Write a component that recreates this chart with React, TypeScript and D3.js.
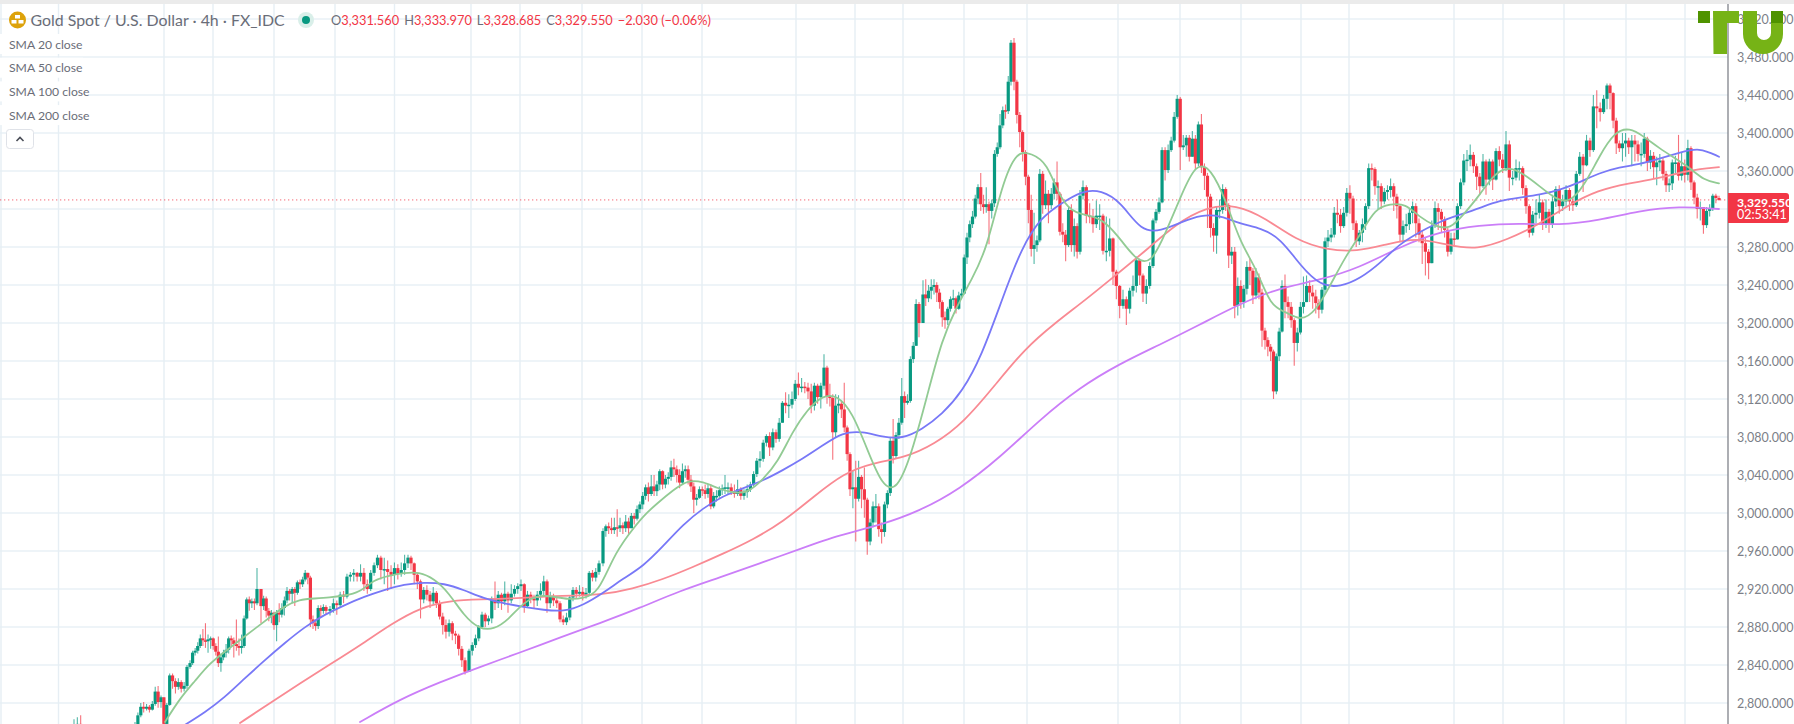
import React, { useEffect, useRef } from "react";
import * as d3 from "d3";

// one bar = [close, high, low], open is the previous close
type Bar = [number, number, number];

const barsStub: Bar[] = [[2775, 2783, 2770], [2778, 2785, 2772], [2776, 2787, 2770], [2772, 2778, 2765]];
const barsA1: Bar[] = [
  [2775, 2780, 2770], [2787, 2790, 2772], [2796, 2800, 2785], [2794, 2801, 2790], [2796, 2799, 2792], [2793, 2798, 2790],
  [2799, 2802, 2792], [2812, 2817, 2797], [2801, 2818, 2795], [2806, 2808, 2795], [2778, 2806, 2770], [2798, 2800, 2776],
  [2829, 2831, 2797], [2823, 2831, 2815], [2817, 2826, 2810], [2822, 2826, 2814], [2815, 2824, 2811], [2818, 2822, 2812], [2838, 2840, 2815],
];
const barsA2: Bar[] = [
  [2842, 2845, 2836], [2853, 2855, 2840], [2855, 2858, 2850], [2860, 2864, 2852], [2868, 2872, 2858], [2866, 2878, 2860],
  [2865, 2884, 2858], [2867, 2872, 2853], [2868, 2870, 2857], [2860, 2869, 2856], [2854, 2863, 2850], [2842, 2870, 2838],
  [2848, 2852, 2833], [2853, 2856, 2845], [2856, 2862, 2848], [2868, 2870, 2852], [2866, 2871, 2860], [2862, 2869, 2848],
  [2860, 2888, 2855], [2858, 2868, 2850], [2860, 2872, 2852], [2889, 2892, 2858], [2909, 2911, 2888], [2905, 2912, 2897],
  [2907, 2910, 2900], [2905, 2910, 2898], [2920, 2942, 2903],
];
const barsA3: Bar[] = [
  [2902, 2920, 2884], [2910, 2913, 2898], [2897, 2912, 2890], [2892, 2900, 2886], [2895, 2898, 2884], [2882, 2896, 2877],
  [2895, 2898, 2865], [2893, 2905, 2885], [2900, 2905, 2890], [2908, 2912, 2892], [2918, 2922, 2905], [2915, 2920, 2908],
  [2920, 2922, 2905], [2916, 2922, 2902], [2927, 2929, 2914], [2925, 2930, 2920], [2930, 2933, 2922], [2937, 2940, 2928],
  [2932, 2937, 2925], [2888, 2934, 2880], [2884, 2892, 2878], [2881, 2888, 2876], [2900, 2903, 2878], [2897, 2903, 2890],
  [2901, 2904, 2894], [2897, 2903, 2893],
];
const barsB1: Bar[] = [
  [2899, 2902, 2892], [2905, 2910, 2895], [2903, 2908, 2893], [2914, 2917, 2900], [2912, 2918, 2905], [2933, 2936, 2910],
  [2935, 2938, 2928], [2937, 2941, 2928], [2933, 2938, 2928], [2937, 2946, 2928], [2925, 2942, 2918], [2920, 2930, 2915],
  [2937, 2940, 2918], [2945, 2948, 2934], [2953, 2956, 2942], [2940, 2955, 2930], [2941, 2953, 2925], [2938, 2950, 2918],
  [2935, 2945, 2920], [2942, 2948, 2925], [2936, 2946, 2930], [2940, 2948, 2933], [2947, 2956, 2935], [2953, 2956, 2942],
];
const barsB2: Bar[] = [
  [2947, 2955, 2940], [2935, 2948, 2925], [2928, 2937, 2920], [2909, 2930, 2889], [2919, 2922, 2905], [2914, 2924, 2908],
  [2907, 2918, 2900], [2916, 2922, 2904], [2905, 2918, 2900], [2891, 2908, 2888], [2882, 2895, 2872], [2875, 2888, 2868],
  [2884, 2888, 2870], [2873, 2886, 2866], [2871, 2876, 2862], [2857, 2873, 2850], [2845, 2860, 2838], [2833, 2848, 2830],
];
const barsB3: Bar[] = [
  [2855, 2857, 2833], [2861, 2864, 2850], [2868, 2872, 2858], [2880, 2882, 2865], [2893, 2896, 2878], [2886, 2895, 2880],
  [2889, 2892, 2882], [2910, 2912, 2884], [2905, 2928, 2898], [2914, 2918, 2900], [2907, 2916, 2898], [2915, 2928, 2903],
  [2908, 2917, 2895], [2915, 2925, 2905], [2920, 2924, 2912], [2923, 2926, 2915], [2925, 2930, 2918], [2902, 2926, 2895],
  [2914, 2918, 2900], [2910, 2917, 2905], [2908, 2914, 2900], [2914, 2918, 2902], [2918, 2926, 2908], [2928, 2934, 2912],
  [2905, 2930, 2895], [2912, 2917, 2900], [2908, 2915, 2902], [2905, 2912, 2900], [2888, 2907, 2885], [2885, 2892, 2882],
  [2890, 2895, 2882], [2911, 2913, 2887], [2919, 2922, 2907], [2915, 2922, 2910], [2917, 2924, 2912], [2913, 2922, 2908],
  [2916, 2921, 2910], [2937, 2939, 2914], [2932, 2940, 2928], [2938, 2942, 2928], [2947, 2950, 2935],
];
const barsC1: Bar[] = [
  [2981, 2984, 2944], [2986, 2988, 2975], [2984, 2990, 2978], [2982, 2995, 2978], [2985, 2995, 2978], [2984, 3004, 2975],
  [2987, 2995, 2980], [2984, 2990, 2978], [2991, 2998, 2980], [2984, 2995, 2978], [2997, 3000, 2984], [2994, 3000, 2988],
  [3004, 3008, 2992], [3009, 3012, 3000], [3018, 3022, 3004], [3027, 3030, 3014], [3020, 3032, 3012], [3028, 3040, 3018],
  [3023, 3040, 3018], [3030, 3034, 3018], [3044, 3046, 3024], [3030, 3045, 3025], [3036, 3040, 3026], [3038, 3043, 3030],
  [3048, 3055, 3034], [3046, 3057, 3038], [3040, 3050, 3032], [3032, 3046, 3026], [3044, 3052, 3030], [3046, 3050, 3037],
  [3035, 3050, 3030], [3028, 3040, 3022], [3014, 3032, 3000], [3016, 3020, 3008], [3025, 3028, 3015], [3024, 3028, 3018],
  [3020, 3030, 3015], [3026, 3030, 3016], [3007, 3030, 3004], [3018, 3022, 3005], [3018, 3024, 3012], [3024, 3028, 3016],
  [3026, 3030, 3019], [3027, 3040, 3020],
];
const barsC2: Bar[] = [
  [3027, 3032, 3020], [3023, 3031, 3019], [3020, 3030, 3016], [3025, 3035, 3018], [3018, 3027, 3014], [3022, 3025, 3014],
  [3025, 3030, 3016], [3030, 3033, 3022], [3041, 3044, 3028], [3055, 3058, 3038], [3057, 3065, 3048], [3074, 3077, 3054],
  [3081, 3083, 3070], [3069, 3085, 3060], [3085, 3089, 3066], [3078, 3088, 3074], [3095, 3100, 3075], [3116, 3118, 3095],
  [3113, 3127, 3105], [3114, 3125, 3100], [3120, 3128, 3110], [3136, 3140, 3118], [3132, 3148, 3124], [3133, 3142, 3127],
  [3132, 3138, 3126], [3128, 3137, 3120], [3113, 3136, 3105], [3134, 3137, 3108], [3122, 3136, 3115], [3134, 3137, 3110], [3153, 3167, 3130],
];
const barsC3: Bar[] = [
  [3123, 3155, 3115], [3121, 3136, 3112], [3085, 3125, 3056], [3113, 3125, 3080], [3115, 3124, 3105], [3109, 3118, 3100],
  [3090, 3137, 3085], [3062, 3092, 3055], [3025, 3064, 3018], [3027, 3045, 3005], [3015, 3055, 2970], [3038, 3055, 3012],
  [3025, 3040, 3005], [3014, 3048, 2995], [2970, 3016, 2956], [2990, 2994, 2966], [3007, 3012, 2985], [3007, 3020, 2990],
  [2983, 3010, 2975], [2980, 2990, 2968], [3009, 3012, 2975], [3021, 3024, 3005], [3076, 3080, 3018], [3060, 3099, 3052],
  [3082, 3085, 3058], [3095, 3100, 3078], [3123, 3142, 3093], [3116, 3128, 3100], [3118, 3125, 3114], [3162, 3165, 3116],
  [3176, 3180, 3158], [3220, 3225, 3176], [3200, 3222, 3185],
];
const barsD1: Bar[] = [
  [3230, 3245, 3200], [3226, 3246, 3218], [3234, 3240, 3222], [3238, 3246, 3225], [3240, 3246, 3230], [3232, 3243, 3222],
  [3222, 3236, 3215], [3206, 3224, 3196], [3203, 3212, 3194], [3215, 3217, 3198], [3225, 3228, 3212], [3226, 3235, 3218],
  [3215, 3228, 3210], [3229, 3233, 3214], [3231, 3236, 3225], [3269, 3272, 3230], [3290, 3295, 3262], [3304, 3308, 3285],
  [3312, 3318, 3300], [3331, 3335, 3310], [3343, 3346, 3325], [3325, 3358, 3318], [3322, 3335, 3315], [3325, 3343, 3316],
  [3318, 3328, 3283], [3326, 3330, 3310], [3378, 3382, 3322], [3385, 3390, 3375], [3408, 3420, 3383], [3424, 3428, 3405],
  [3423, 3430, 3415], [3454, 3460, 3420], [3495, 3498, 3450],
];
const barsD2: Bar[] = [
  [3454, 3500, 3445], [3419, 3456, 3410], [3401, 3422, 3385], [3380, 3403, 3370], [3354, 3382, 3345], [3319, 3356, 3305],
  [3278, 3335, 3270], [3282, 3316, 3262], [3287, 3292, 3275], [3357, 3362, 3285], [3324, 3360, 3315], [3336, 3350, 3320],
  [3324, 3340, 3305], [3336, 3342, 3320], [3348, 3352, 3330], [3336, 3370, 3330], [3296, 3338, 3292], [3293, 3305, 3285],
  [3282, 3298, 3265], [3319, 3322, 3280], [3282, 3325, 3275], [3302, 3310, 3270], [3275, 3305, 3268], [3334, 3340, 3272],
];
const barsD3: Bar[] = [
  [3343, 3350, 3330], [3313, 3345, 3305], [3312, 3326, 3305], [3304, 3320, 3295], [3313, 3329, 3300], [3313, 3325, 3298],
  [3276, 3315, 3272], [3276, 3312, 3265], [3289, 3310, 3270], [3254, 3290, 3240], [3239, 3256, 3225], [3218, 3240, 3205],
  [3225, 3235, 3215], [3215, 3228, 3198], [3234, 3237, 3210], [3239, 3250, 3228], [3266, 3270, 3232], [3250, 3268, 3240],
  [3231, 3252, 3222], [3239, 3246, 3220], [3260, 3264, 3236], [3308, 3310, 3258],
];
const barsD4: Bar[] = [
  [3317, 3320, 3305], [3327, 3332, 3315], [3382, 3385, 3326], [3361, 3385, 3350], [3382, 3388, 3358], [3392, 3396, 3380],
  [3417, 3422, 3390], [3436, 3440, 3415], [3385, 3438, 3361], [3387, 3398, 3382], [3395, 3398, 3375], [3375, 3398, 3370],
  [3394, 3402, 3385], [3368, 3398, 3362], [3409, 3412, 3365], [3364, 3420, 3358], [3355, 3368, 3340], [3333, 3358, 3300],
  [3300, 3336, 3290], [3292, 3305, 3275], [3319, 3322, 3273], [3319, 3330, 3310], [3341, 3346, 3315], [3324, 3343, 3318],
  [3271, 3326, 3258], [3275, 3280, 3262], [3218, 3280, 3205], [3239, 3248, 3208], [3222, 3245, 3215], [3236, 3240, 3216],
  [3259, 3265, 3230], [3255, 3268, 3240], [3229, 3258, 3220], [3248, 3258, 3225], [3232, 3252, 3225], [3192, 3236, 3175],
];
const barsE1: Bar[] = [
  [3182, 3195, 3172], [3175, 3185, 3165], [3170, 3178, 3160], [3128, 3172, 3120], [3165, 3168, 3125], [3191, 3195, 3160], [3239, 3245, 3190],
];
const barsE2: Bar[] = [
  [3222, 3251, 3205], [3217, 3228, 3205], [3203, 3222, 3195], [3179, 3205, 3155], [3190, 3195, 3170], [3217, 3222, 3188],
  [3222, 3249, 3210], [3239, 3250, 3225], [3232, 3245, 3222], [3228, 3240, 3215], [3221, 3235, 3210], [3214, 3225, 3205],
  [3235, 3238, 3210], [3286, 3290, 3230],
];
const barsE3: Bar[] = [
  [3290, 3298, 3280], [3293, 3300, 3285], [3316, 3322, 3290], [3314, 3330, 3305], [3302, 3320, 3295], [3316, 3322, 3300],
  [3337, 3342, 3312], [3331, 3345, 3315], [3305, 3334, 3298], [3286, 3308, 3280], [3295, 3298, 3282], [3304, 3310, 3285],
  [3323, 3326, 3298], [3363, 3368, 3320], [3362, 3368, 3350], [3344, 3364, 3335], [3344, 3350, 3320], [3328, 3347, 3320],
  [3338, 3342, 3325], [3340, 3345, 3330], [3344, 3352, 3332], [3333, 3347, 3318], [3323, 3336, 3310], [3293, 3325, 3285],
];
const barsE4: Bar[] = [
  [3302, 3308, 3285], [3304, 3315, 3295], [3316, 3320, 3298], [3323, 3328, 3305], [3305, 3326, 3290], [3293, 3310, 3285],
  [3284, 3298, 3262], [3275, 3290, 3250], [3263, 3278, 3246], [3302, 3308, 3265], [3321, 3328, 3300], [3317, 3326, 3298],
  [3309, 3320, 3295], [3298, 3312, 3290], [3275, 3300, 3270], [3289, 3295, 3272], [3288, 3295, 3280], [3323, 3326, 3288],
  [3348, 3352, 3320], [3371, 3378, 3345], [3372, 3382, 3360], [3377, 3388, 3365], [3365, 3380, 3358], [3354, 3368, 3340],
  [3344, 3358, 3335], [3370, 3378, 3342],
];
const barsE5: Bar[] = [
  [3351, 3372, 3335], [3370, 3373, 3345], [3351, 3372, 3340], [3381, 3384, 3350], [3372, 3386, 3365], [3363, 3378, 3358],
  [3388, 3402, 3360], [3353, 3392, 3339], [3353, 3360, 3345], [3363, 3372, 3350], [3363, 3370, 3350], [3342, 3365, 3335],
  [3323, 3345, 3315], [3295, 3325, 3290], [3314, 3318, 3292], [3316, 3330, 3305], [3327, 3335, 3310], [3304, 3330, 3298], [3317, 3330, 3300],
];
const barsF1: Bar[] = [
  [3304, 3320, 3295], [3328, 3335, 3300], [3341, 3344, 3322], [3323, 3345, 3315], [3328, 3335, 3318], [3340, 3345, 3322],
  [3328, 3342, 3318], [3324, 3332, 3318], [3357, 3360, 3322], [3375, 3380, 3355], [3366, 3378, 3338], [3392, 3398, 3365],
  [3382, 3395, 3375], [3428, 3440, 3380], [3426, 3445, 3405], [3422, 3432, 3412], [3436, 3440, 3420], [3450, 3452, 3425],
];
const barsF2: Bar[] = [
  [3442, 3452, 3425], [3413, 3443, 3405], [3389, 3416, 3378], [3384, 3392, 3380], [3389, 3400, 3370], [3392, 3400, 3375],
  [3385, 3395, 3378], [3392, 3398, 3365], [3388, 3398, 3370], [3378, 3392, 3370], [3378, 3390, 3365], [3394, 3400, 3374],
  [3369, 3396, 3360], [3376, 3382, 3362], [3364, 3380, 3352], [3369, 3375, 3345], [3371, 3378, 3360], [3357, 3374, 3350],
  [3345, 3360, 3338], [3347, 3352, 3338], [3369, 3372, 3340], [3369, 3376, 3358], [3355, 3398, 3350], [3365, 3380, 3350],
  [3356, 3372, 3348], [3384, 3393, 3350], [3348, 3386, 3340], [3332, 3350, 3325], [3320, 3336, 3310], [3322, 3328, 3308],
  [3303, 3322, 3294], [3318, 3322, 3300], [3320, 3325, 3312], [3334, 3336, 3318], [3331.56, 3336, 3326], [3329.55, 3333.97, 3328.685],
];

const legs = [barsStub, barsA1, barsA2, barsA3, barsB1, barsB2, barsB3, barsC1, barsC2, barsC3, barsD1, barsD2, barsD3, barsD4, barsE1, barsE2, barsE3, barsE4, barsE5, barsF1, barsF2];

// samples along the time axis, evenly spaced
const sma20 = [
  2780, 2805, 2823, 2842, 2854, 2866, 2878, 2890, 2902, 2909, 2910, 2911, 2913, 2916, 2930, 2934, 2937, 2938, 2931, 2916, 2892, 2878, 2877, 2888,
  2906, 2914, 2912, 2909, 2910, 2916, 2954, 2977, 2997, 3011, 3024, 3035, 3033, 3026, 3021, 3021, 3035, 3053, 3086, 3109, 3124, 3124, 3106, 3067,
  3028, 3023, 3064, 3123, 3183, 3218, 3246, 3278, 3345, 3382, 3378, 3370, 3327, 3315, 3313, 3306, 3287, 3266, 3262, 3296, 3334, 3369, 3363, 3329,
  3283, 3259, 3217, 3212, 3202, 3212, 3240, 3270, 3293, 3321, 3325, 3326, 3311, 3302, 3298, 3316, 3335, 3358, 3365, 3356, 3344, 3331, 3326, 3345,
  3376, 3401, 3406, 3396, 3384, 3374, 3364, 3350, 3347,
];
const sma50 = [
  2777, 2790, 2806, 2826, 2845, 2863, 2880, 2893, 2903, 2912, 2919, 2925, 2927, 2926, 2919, 2910, 2905, 2901, 2898, 2896, 2903, 2916, 2931, 2944,
  2965, 2988, 3005, 3018, 3026, 3034, 3045, 3057, 3071, 3085, 3086, 3080, 3078, 3088, 3104, 3127, 3166, 3224, 3280, 3312, 3326, 3339, 3340, 3327,
  3296, 3297, 3306, 3314, 3313, 3304, 3300, 3289, 3260, 3239, 3238, 3247, 3263, 3284, 3296, 3307, 3314, 3321, 3329, 3332, 3335, 3340, 3348, 3358,
  3364, 3367, 3373, 3379, 3385, 3375,
];
const sma100 = [
  2779, 2800, 2821, 2841, 2861, 2883, 2901, 2908, 2909, 2910, 2912, 2913, 2914, 2920, 2930, 2943, 2957, 2972, 2991, 3017, 3042, 3053, 3058, 3072,
  3096, 3134, 3173, 3200, 3224, 3250, 3276, 3304, 3322, 3325, 3310, 3287, 3277, 3275, 3283, 3290, 3282, 3277, 3288, 3303, 3324, 3340, 3347, 3352,
  3361, 3364,
];
const sma200 = [
  2780, 2804, 2822, 2838, 2853, 2869, 2884, 2900, 2918, 2932, 2947, 2962, 2977, 2987, 3002, 3025, 3058, 3098, 3132, 3157, 3177, 3198, 3220, 3237,
  3245, 3258, 3280, 3296, 3303, 3305, 3303, 3308, 3318, 3323, 3320,
];

const priceTicks = d3.range(2800, 3521, 40);
const hiddenTick = 3320; // sits behind the last price label
const legendRows = ["SMA 20 close", "SMA 50 close", "SMA 100 close", "SMA 200 close"];
const ohlcParts = [
  ["O", "3,331.560"],
  ["H", "3,333.970"],
  ["L", "3,328.685"],
  ["C", "3,329.550"],
];
const lastPrice = 3329.55;

// layout
const W = 1794;
const H = 724;
const axisX = 1728;
// first and last pixel of each run of bars, the bar scale is built on these
const legSpans = [[74, 84], [135, 187], [190, 257], [261, 326], [330, 408], [411, 465], [469, 599], [603, 725], [728, 824], [827, 919], [923, 1011], [1014, 1080], [1083, 1153], [1156, 1262], [1265, 1282], [1285, 1325], [1328, 1400], [1403, 1483], [1486, 1546], [1549, 1607], [1610, 1719]];
const timeGridX = [1, 58.5, 164, 213, 274, 335, 394.5, 471, 520, 582, 642, 702, 796, 855, 903, 964, 1027, 1118, 1180, 1241, 1301, 1349, 1454, 1503, 1564, 1626, 1685];

const UP = "#089981";
const DOWN = "#f23645";
const FONT = "Lato, 'Open Sans', sans-serif";

const App: React.FC = () => {
  const svgRef = useRef<SVGSVGElement | null>(null);

  useEffect(() => {
    if (!svgRef.current) return;
    const svg = d3.select(svgRef.current);
    svg.selectAll("*").remove();

    const y = d3.scaleLinear().domain([2800, 3480]).range([703, 57]);

    // piecewise bar scale
    const domain: number[] = [];
    const range: number[] = [];
    let count = 0;
    legs.forEach((leg, i) => {
      domain.push(count, count + leg.length - 1);
      range.push(legSpans[i][0], legSpans[i][1]);
      count += leg.length;
    });
    const x = d3.scaleLinear().domain(domain).range(range);

    const bars = legs.flat().map((b, i, all) => {
      const open = i === 0 ? b[0] : all[i - 1][0];
      return { i, open, close: b[0], high: Math.max(b[1], open, b[0]), low: Math.min(b[2], open, b[0]) };
    });

    svg.append("rect").attr("width", W).attr("height", H).attr("fill", "#fff");

    // grid
    svg.append("g").selectAll("line").data(priceTicks).join("line")
      .attr("x1", 0).attr("x2", axisX)
      .attr("y1", (d) => y(d)).attr("y2", (d) => y(d))
      .attr("stroke", "#e9f0f6").attr("stroke-width", 1.4);
    svg.append("g").selectAll("line").data(timeGridX).join("line")
      .attr("x1", (d) => d).attr("x2", (d) => d)
      .attr("y1", 4).attr("y2", H)
      .attr("stroke", "#e6eef4").attr("stroke-width", 1.4);

    svg.append("defs").append("clipPath").attr("id", "pane")
      .append("rect").attr("x", 0).attr("y", 4).attr("width", axisX).attr("height", H - 4);
    const pane = svg.append("g").attr("clip-path", "url(#pane)");

    // last price line
    pane.append("line")
      .attr("x1", 0).attr("x2", axisX)
      .attr("y1", y(lastPrice)).attr("y2", y(lastPrice))
      .attr("stroke", DOWN).attr("stroke-opacity", 0.75).attr("stroke-dasharray", "1.3 2.7");

    const colour = (d: { open: number; close: number }) => (d.close >= d.open ? UP : DOWN);

    pane.append("g").selectAll("line").data(bars).join("line")
      .attr("x1", (d) => x(d.i)).attr("x2", (d) => x(d.i))
      .attr("y1", (d) => y(d.high)).attr("y2", (d) => y(d.low))
      .attr("stroke", colour).attr("stroke-opacity", 0.7).attr("stroke-width", 1.1);
    pane.append("g").selectAll("rect").data(bars).join("rect")
      .attr("x", (d) => x(d.i) - 1.6).attr("width", 3.2)
      .attr("y", (d) => y(Math.max(d.open, d.close)))
      .attr("height", (d) => Math.max(1.5, Math.abs(y(d.open) - y(d.close))))
      .attr("fill", colour);

    // moving averages
    const drawSma = (values: number[], x0: number, stroke: string, curve: d3.CurveFactory) => {
      const t = d3.scaleLinear().domain([0, values.length - 1]).range([x0, 1719]);
      const line = d3.line<number>().x((_, i) => t(i)).y((d) => y(d)).curve(curve);
      pane.append("path").attr("d", line(values)).attr("fill", "none")
        .attr("stroke", stroke).attr("stroke-width", 1.8).attr("stroke-linecap", "round");
    };
    drawSma(sma200, 360, "#cb7ef8", d3.curveBasis);
    drawSma(sma100, 240, "#f98a93", d3.curveBasis);
    drawSma(sma50, 185, "#7878f7", d3.curveBasis);
    drawSma(sma20, 165, "#92cb94", d3.curveBasis);

    // price axis
    const axis = svg.append("g").attr("transform", `translate(${axisX},0)`)
      .call(
        d3.axisRight(y)
          .tickValues(priceTicks.filter((d) => d !== hiddenTick))
          .tickFormat(d3.format(",.3f"))
          .tickSize(0)
          .tickPadding(9)
      );
    axis.select(".domain").remove();
    axis.selectAll("text").attr("font-family", FONT).attr("font-size", 12.5).attr("fill", "#7c7f88");
    svg.append("line").attr("x1", axisX).attr("x2", axisX).attr("y1", 4).attr("y2", H)
      .attr("stroke", "#80838a").attr("stroke-width", 1.3);

    // last price label
    svg.append("path")
      .attr("d", `M${axisX} 193H1786a3 3 0 0 1 3 3V220a3 3 0 0 1 -3 3H${axisX}Z`)
      .attr("fill", DOWN);
    svg.append("text").attr("x", 1737).attr("y", 206.5).attr("fill", "#fff")
      .attr("font-family", FONT).attr("font-size", 12.2).attr("font-weight", 700)
      .text(d3.format(",.3f")(lastPrice));
    svg.append("text").attr("x", 1737).attr("y", 219).attr("fill", "#fff")
      .attr("font-family", FONT).attr("font-size", 12.5).attr("font-weight", 400).text("02:53:41");

    // header legend
    const coin = svg.append("g");
    coin.append("circle").attr("cx", 17.5).attr("cy", 20).attr("r", 8.5).attr("fill", "#dda20a");
    coin.append("rect").attr("x", 15).attr("y", 15).attr("width", 5).attr("height", 3.5).attr("fill", "#fff");
    coin.append("rect").attr("x", 11.5).attr("y", 20).attr("width", 5).attr("height", 3.5).attr("fill", "#fff");
    coin.append("rect").attr("x", 18.5).attr("y", 20).attr("width", 5).attr("height", 3.5).attr("fill", "#fff");

    svg.append("text").attr("x", 30.5).attr("y", 25.5).attr("font-family", FONT).attr("font-size", 15.9)
      .attr("fill", "#6a6d78").text("Gold Spot / U.S. Dollar · 4h · FX_IDC");

    svg.append("circle").attr("cx", 306).attr("cy", 20).attr("r", 8).attr("fill", "#d9efe9");
    svg.append("circle").attr("cx", 306).attr("cy", 20).attr("r", 4).attr("fill", UP);

    const ohlc = svg.append("text").attr("x", 331).attr("y", 25).attr("font-family", FONT).attr("font-size", 12.8);
    ohlcParts.forEach(([k, v], i) => {
      ohlc.append("tspan").attr("fill", "#6a6d78").attr("dx", i ? 5 : 0).text(k);
      ohlc.append("tspan").attr("fill", DOWN).text(v);
    });
    ohlc.append("tspan").attr("fill", DOWN).attr("dx", 5).text("−2.030 (−0.06%)");

    legendRows.forEach((label, i) => {
      const cy = 44 + i * 23.7;
      svg.append("rect").attr("x", 0).attr("y", cy - 10).attr("width", label.length > 12 ? 89 : 83).attr("height", 20).attr("fill", "#fff");
      svg.append("text").attr("x", 9).attr("y", cy + 4.5).attr("font-family", FONT).attr("font-size", 12.2)
        .attr("fill", "#6a6d78").text(label);
    });

    svg.append("rect").attr("x", 6.5).attr("y", 129.5).attr("width", 27).attr("height", 19).attr("rx", 3)
      .attr("fill", "#fff").attr("stroke", "#dfe2e8");
    svg.append("path").attr("d", "M16.5 141l3.5 -3.5l3.5 3.5").attr("fill", "none").attr("stroke", "#4a4d57").attr("stroke-width", 1.6);

    // TU watermark
    const logo = svg.append("g");
    logo.append("rect").attr("x", 1698).attr("y", 11).attr("width", 12).attr("height", 12).attr("fill", "#4f9300");
    logo.append("path").attr("d", "M1713 11H1739V23H1727V54H1713.5Z").attr("fill", "#76b316");
    logo.append("path").attr("d", "M1743 11H1757V33a7 7 0 0 0 14 0V23H1783V34a20 20 0 0 1 -40 0Z").attr("fill", "#76b316");
    logo.append("rect").attr("x", 1771).attr("y", 11).attr("width", 12).attr("height", 12).attr("fill", "#4f9300");

    // strip of the page above the chart
    svg.append("rect").attr("width", W).attr("height", 4).attr("fill", "#ebebeb");
  }, []);

  return (
    <svg
      ref={svgRef}
      width={W}
      height={H}
      style={{ position: "absolute", left: 0, top: 0, display: "block" }}
    />
  );
};

export default App;
